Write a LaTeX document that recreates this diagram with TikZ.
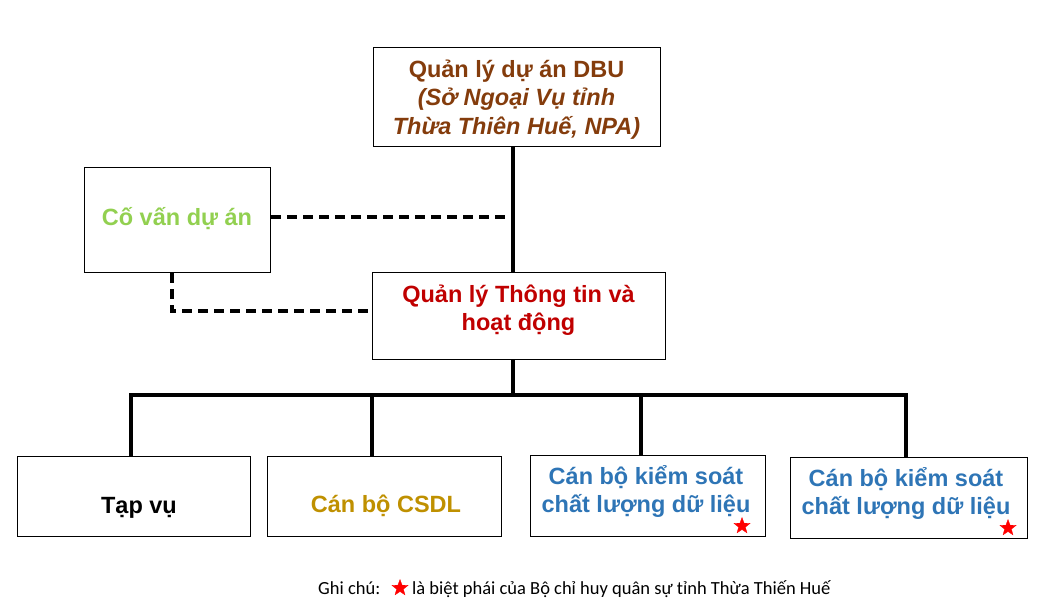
\documentclass[tikz,border=0pt]{standalone}
\usepackage{fontspec}
\setmainfont{Liberation Sans}
\newfontfamily\legendfont{Carlito}
\usetikzlibrary{shapes.geometric}
\definecolor{cbrown}{HTML}{843C0C}
\definecolor{cred}{HTML}{C00000}
\definecolor{cgreen}{HTML}{92D050}
\definecolor{cgold}{HTML}{BF9000}
\definecolor{cblue}{HTML}{2E75B6}
\tikzset{
  box/.style={draw, line width=1pt, inner sep=0pt, anchor=north west},
  txt/.style={align=center, inner sep=0pt, font=\fontsize{23.5}{28.5}\selectfont\bfseries},
  conn/.style={line width=3.5pt},
  dconn/.style={line width=3.5pt, dash pattern=on 10pt off 6pt},
  redstar/.style={star, star points=5, star point ratio=2.4, fill=red, draw=red, line width=0.3pt, minimum size=17pt, inner sep=0pt},
  legtxt/.style={anchor=base west, inner sep=0pt, font=\legendfont\fontsize{18.5}{20}\selectfont},
}
\begin{document}
\begin{tikzpicture}[x=1pt,y=-1pt]
\useasboundingbox (0,0) rectangle (1047,610);
% boxes
\node[box, minimum width=287, minimum height=99] (dbu) at (373,47) {};
\node[box, minimum width=186, minimum height=105] (cv) at (84,167) {};
\node[box, minimum width=293, minimum height=87] (ql) at (372,272) {};
\node[box, minimum width=233, minimum height=80] (b1) at (17,456) {};
\node[box, minimum width=234, minimum height=80] (b2) at (267,456) {};
\node[box, minimum width=235, minimum height=81] (b3) at (530,455) {};
\node[box, minimum width=237, minimum height=81] (b4) at (790,457) {};
% texts
\node[txt, text=cbrown] (dbut) at (516.5,99.5) {Quản lý dự án DBU\\\textit{(Sở Ngoại Vụ tỉnh}\\\textit{Thừa Thiên Huế, NPA)}};
\node[txt, text=cgreen] (cvt) at (177,219) {Cố vấn dự án};
\node[txt, text=cred] (qlt) at (518.5,310) {Quản lý Thông tin và\\hoạt động};
\node[txt, text=black] (b1t) at (139,507.5) {Tạp vụ};
\node[txt, text=cgold] (b2t) at (386,505.5) {Cán bộ CSDL};
\node[txt, text=cblue] (b3t) at (646,491.5) {Cán bộ kiểm soát\\chất lượng dữ liệu};
\node[txt, text=cblue] (b4t) at (906,493.5) {Cán bộ kiểm soát\\chất lượng dữ liệu};
% stars
\node[redstar] (s3) at (742,526) {};
\node[redstar] (s4) at (1008,528) {};
% connectors
\coordinate (spine) at (513,0);
\coordinate (busL) at (131,395);
\coordinate (busR) at (906,395);
\coordinate (d2) at (372,395);
\coordinate (d3) at (641,395);
\coordinate (dh) at (0,217);
\coordinate (corner) at (172,311);
\draw[conn] (dbu.south -| spine) -- (ql.north -| spine);
\draw[conn] (ql.south -| spine) -- (spine |- busL);
\draw[conn, line cap=rect] (busL) -- (busR);
\draw[conn] (busL) -- (b1.north -| busL);
\draw[conn] (d2) -- (b2.north -| d2);
\draw[conn] (d3) -- (b3.north -| d3);
\draw[conn] (busR) -- (b4.north -| busR);
\draw[dconn] (cv.east |- dh) -- (spine |- dh);
\draw[dconn] (cv.south -| corner) -- (corner) -- (ql.west |- corner);
% legend
\node[legtxt] (gc) at (318,594) {Ghi chú:};
\node[redstar] (ls) at (400,588) {};
\node[legtxt] (lt) at (412,594) {là biệt phái của Bộ chỉ huy quân sự tỉnh Thừa Thiến Huế};
\end{tikzpicture}
\end{document}
